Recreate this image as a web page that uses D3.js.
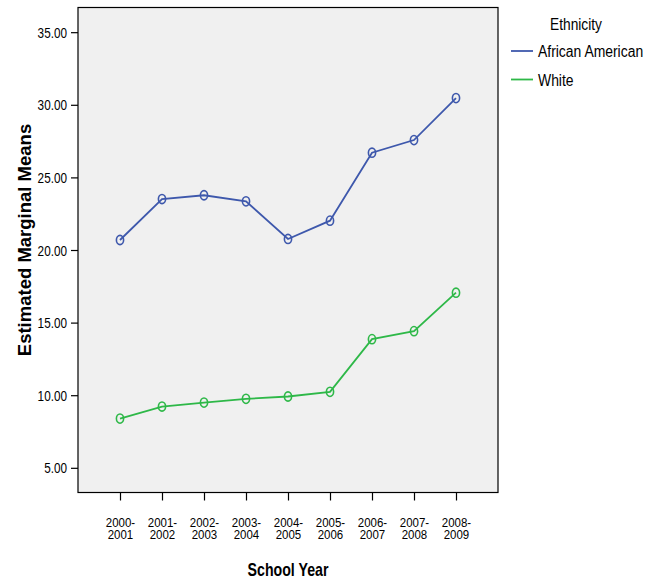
<!DOCTYPE html>
<html><head><meta charset="utf-8">
<script src="https://cdn.jsdelivr.net/npm/d3@7"></script>
<style>body{margin:0;background:#fff;} svg{display:block;}</style>
</head><body>
<script>
const categories = ["2000-2001","2001-2002","2002-2003","2003-2004","2004-2005","2005-2006","2006-2007","2007-2008","2008-2009"];
const africanAmerican = [20.69, 23.51, 23.77, 23.35, 20.76, 22.02, 26.70, 27.57, 30.46];
const white = [8.39, 9.22, 9.49, 9.75, 9.91, 10.23, 13.86, 14.41, 17.06];
const yTicks = [5, 10, 15, 20, 25, 30, 35];
const seriesNames = ["African American", "White"];
const seriesColors = ["#3E58AC", "#2EB848"];

const W = 648, H = 578;
const FONT = "'Liberation Sans', Arial, sans-serif";
const svg = d3.select("body").append("svg").attr("width", W).attr("height", H);

function ntext(parent, x, y, str, size, anchor, weight, sx) {
  return parent.append("text")
    .attr("transform", `translate(${x},${y}) scale(${sx},1)`)
    .attr("font-family", FONT).attr("font-size", size)
    .attr("font-weight", weight || "normal")
    .attr("text-anchor", anchor || "start").attr("fill", "#000").text(str);
}

const pL = 78, pR = 498, pT = 7.5, pB = 492.5;
const x = d3.scalePoint().domain(categories).range([pL, pR]).padding(1);
const y = d3.scaleLinear().domain([3.3, 36.7]).range([pB, pT]);

svg.append("rect").attr("x", pL).attr("y", pT).attr("width", pR-pL).attr("height", pB-pT)
  .attr("fill", "#f0f0f0").attr("stroke", "#000").attr("stroke-width", 1.2);

// Y axis
const yAxis = svg.append("g").attr("transform", `translate(${pL},0)`)
  .call(d3.axisLeft(y).tickValues(yTicks).tickFormat("").tickSize(7).tickSizeOuter(0));
yAxis.select(".domain").remove();
yAxis.selectAll("line").attr("stroke", "#000").attr("stroke-width", 1.2);
yAxis.selectAll(".tick").each(function(d) {
  ntext(d3.select(this), -11, 5, d3.format(".2f")(d), 14, "end", "normal", 0.84);
});

// X axis
const xAxis = svg.append("g").attr("transform", `translate(0,${pB})`)
  .call(d3.axisBottom(x).tickSize(8).tickSizeOuter(0).tickFormat(""));
xAxis.select(".domain").remove();
xAxis.selectAll("line").attr("stroke", "#000").attr("stroke-width", 1.2);
xAxis.selectAll(".tick").each(function(d) {
  const parts = d.split("-");
  const g = d3.select(this);
  ntext(g, 0, 34.5, parts[0] + "-", 13.5, "middle", "normal", 0.85);
  ntext(g, 0, 46.5, parts[1], 13.5, "middle", "normal", 0.85);
});

// Axis titles
ntext(svg, 288, 576, "School Year", 17.5, "middle", "bold", 0.81);
svg.append("text").attr("transform", "translate(31,240) rotate(-90)").attr("text-anchor", "middle")
  .attr("font-family", FONT).attr("font-weight", "bold").attr("font-size", 18.5)
  .text("Estimated Marginal Means");

// Lines
const series = [africanAmerican, white];
const line = d3.line().x((d, i) => x(categories[i])).y(d => y(d));
series.forEach((vals, si) => {
  svg.append("path").datum(vals).attr("d", line).attr("fill", "none")
    .attr("stroke", seriesColors[si]).attr("stroke-width", 1.8);
  svg.append("g").selectAll("ellipse").data(vals).join("ellipse")
    .attr("cx", (d, i) => x(categories[i])).attr("cy", d => y(d))
    .attr("rx", 3.6).attr("ry", 4.6).attr("fill", "none")
    .attr("stroke", seriesColors[si]).attr("stroke-width", 1.6);
});

// Legend
ntext(svg, 576, 30, "Ethnicity", 16, "middle", "normal", 0.86);
const lg = svg.append("g").selectAll("g").data(seriesNames).join("g")
  .attr("transform", (d, i) => `translate(0,${51 + i*28.5})`);
lg.append("line").attr("x1", 511).attr("x2", 533).attr("y1", 0).attr("y2", 0)
  .attr("stroke", (d, i) => seriesColors[i]).attr("stroke-width", 1.8);
lg.each(function(d) { ntext(d3.select(this), 538, 6, d, 16, "start", "normal", 0.87); });
</script>
</body></html>
